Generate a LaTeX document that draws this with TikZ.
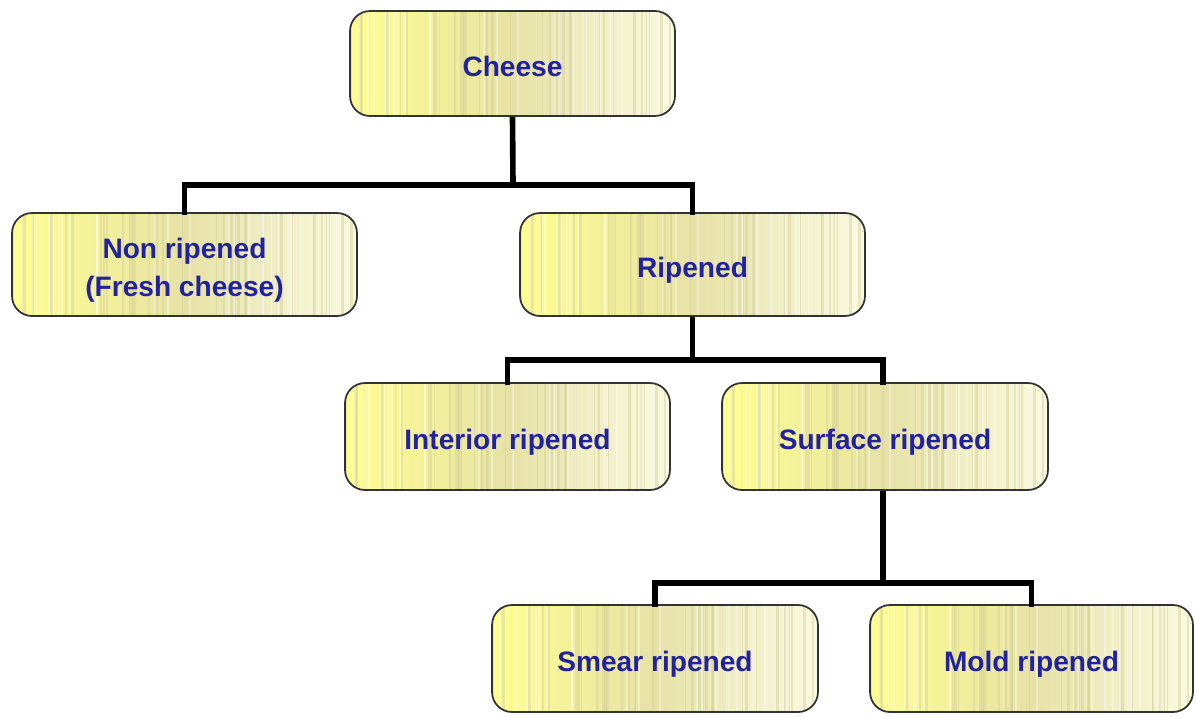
\documentclass[tikz,border=0pt]{standalone}
\usepackage{fontspec}
\usetikzlibrary{calc}
\setmainfont{Liberation Sans}
\definecolor{txtblue}{HTML}{2222A0}
\definecolor{yl}{HTML}{FFFF90}
\definecolor{ym}{HTML}{E6E2A6}
\definecolor{yr}{HTML}{FAFAE2}
\definecolor{stripe}{HTML}{D4D09A}
\definecolor{bord}{HTML}{333333}
\begin{document}
\begin{tikzpicture}[x=0.02cm,y=-0.02cm,
  box/.style={draw=bord, line width=1pt, rounded corners=0.4cm,
    left color=yl, right color=yr, middle color=ym,
    text=txtblue, font=\fontsize{16}{21.5}\selectfont\bfseries, align=center,
    text height=0.52cm, text depth=0cm,
    minimum height=2.1cm, inner sep=0pt,
    path picture={
      \pgfmathsetseed{7}
      \foreach \k in {1,...,40}{
        \pgfmathsetmacro\r{rnd}
        \pgfmathsetmacro\w{0.4+1.2*rnd}
        \draw[stripe, opacity=0.45, line width=\w pt]
          ($(path picture bounding box.south west)!\r!(path picture bounding box.south east)$) -- ++(0,3cm);
      }
      \foreach \k in {1,...,25}{
        \pgfmathsetmacro\r{rnd}
        \draw[white, opacity=0.35, line width=1pt]
          ($(path picture bounding box.south west)!\r!(path picture bounding box.south east)$) -- ++(0,3cm);
      }
    }},
  link/.style={draw=black, line width=3.2pt}]
\useasboundingbox (0,0) rectangle (1196,717);
\node[box, minimum width=6.5cm]  (cheese)   at (512.5,63.5) {Cheese};
\node[box, minimum width=6.9cm, minimum height=2.06cm, text height=1.28cm]  (nonrip)   at (184.5,264.5) {Non ripened\\(Fresh cheese)};
\node[box, minimum width=6.9cm, minimum height=2.06cm]  (ripened)  at (692.5,264.5) {Ripened};
\node[box, minimum width=6.5cm, minimum height=2.14cm]  (interior) at (507.5,436.5) {Interior ripened};
\node[box, minimum width=6.52cm, minimum height=2.14cm] (surface)  at (885,436.5) {Surface ripened};
\node[box, minimum width=6.52cm, minimum height=2.14cm] (smear)    at (655,658.5) {Smear ripened};
\node[box, minimum width=6.46cm, minimum height=2.14cm] (mold)     at (1031.5,658.5) {Mold ripened};
\coordinate (j1) at (513,185);
\coordinate (j2) at (692.5,360);
\coordinate (j3) at (883,583);
\draw[link] (cheese.south) -- (j1);
\draw[link, line cap=rect] (nonrip.north) |- (j1) -| (ripened.north);
\draw[link] (ripened.south) -- (j2);
\draw[link, line cap=rect] (interior.north) |- (j2) -| ([xshift=-0.04cm]surface.north);
\draw[link] ([xshift=-0.04cm]surface.south) -- (j3);
\draw[link, line cap=rect] (smear.north) |- (j3) -| (mold.north);
\end{tikzpicture}
\end{document}
